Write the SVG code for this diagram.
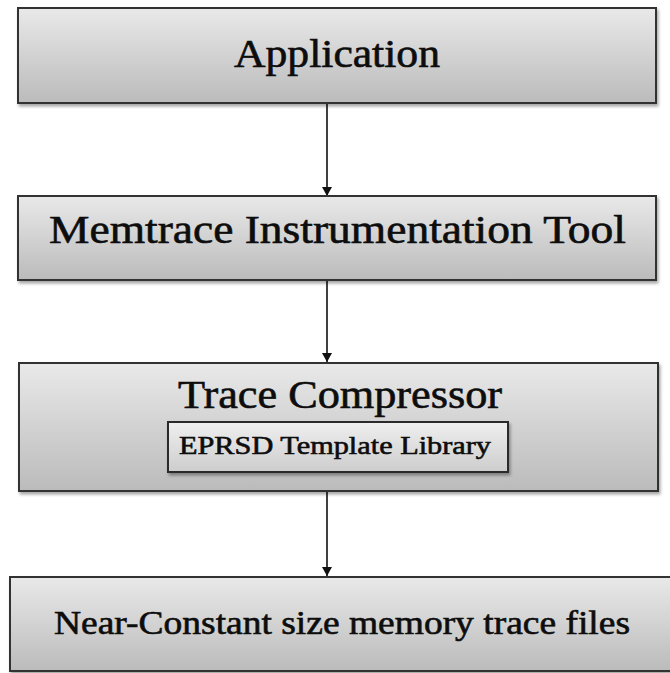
<svg xmlns="http://www.w3.org/2000/svg" width="670" height="673" viewBox="0 0 670 673">
  <defs>
    <linearGradient id="boxFill" x1="0" y1="0" x2="0" y2="1">
      <stop offset="0" stop-color="#e9e9e9"/>
      <stop offset="1" stop-color="#bbbbbb"/>
    </linearGradient>
    <linearGradient id="innerFill" x1="0" y1="0" x2="0" y2="1">
      <stop offset="0" stop-color="#efefef"/>
      <stop offset="1" stop-color="#cdcdcd"/>
    </linearGradient>
    <filter id="shadow" x="-5%" y="-10%" width="110%" height="125%">
      <feDropShadow dx="1.5" dy="2.5" stdDeviation="1.5" flood-color="#000" flood-opacity="0.35"/>
    </filter>
    <marker id="arrow" markerWidth="9" markerHeight="10" refX="9" refY="5" orient="auto" markerUnits="userSpaceOnUse" viewBox="0 0 9 10">
      <path d="M0,0 L9,5 L0,10 Z" fill="#111"/>
    </marker>
  </defs>
  <style>
    .box { fill: url(#boxFill); stroke: #333; stroke-width: 2; filter: url(#shadow); }
    .inner { fill: url(#innerFill); stroke: #2a2a2a; stroke-width: 2; filter: url(#shadow); }
    .label { fill: #0d0d0d; text-anchor: middle; stroke: #0d0d0d; stroke-width: 0.6; }
    .edge { stroke: #111; stroke-width: 1.6; fill: none; marker-end: url(#arrow); }
  </style>

  <rect width="670" height="673" fill="#fff"/>

  <!-- arrows between the stages -->
  <g id="connectors">
    <line class="edge" x1="327" y1="103" x2="327" y2="196"/>
    <line class="edge" x1="327" y1="280" x2="327" y2="362"/>
    <line class="edge" x1="327" y1="491" x2="327" y2="576"/>
  </g>

  <g id="application">
    <rect class="box" x="18" y="8" width="638" height="95"/>
    <text class="label" font-family="Liberation Serif, Times New Roman, serif" x="337" y="67" font-size="39" textLength="206" lengthAdjust="spacingAndGlyphs">Application</text>
  </g>

  <g id="memtrace">
    <rect class="box" x="18" y="196" width="638" height="84"/>
    <text class="label" font-family="Liberation Serif, Times New Roman, serif" x="337.5" y="243" font-size="39" textLength="577" lengthAdjust="spacingAndGlyphs">Memtrace Instrumentation Tool</text>
  </g>

  <g id="trace-compressor">
    <rect class="box" x="19" y="363" width="639" height="128"/>
    <text class="label" font-family="Liberation Serif, Times New Roman, serif" x="340" y="408" font-size="39" textLength="324" lengthAdjust="spacingAndGlyphs">Trace Compressor</text>
    <g id="eprsd-library">
      <rect class="inner" x="168" y="422" width="340" height="50"/>
      <text class="label" font-family="Liberation Serif, Times New Roman, serif" x="335" y="454" font-size="26" textLength="312" lengthAdjust="spacingAndGlyphs">EPRSD Template Library</text>
    </g>
  </g>

  <g id="trace-files">
    <rect class="box" x="10" y="577" width="668" height="94"/>
    <text class="label" font-family="Liberation Serif, Times New Roman, serif" x="342" y="634" font-size="33" textLength="576" lengthAdjust="spacingAndGlyphs">Near-Constant size memory trace files</text>
  </g>
</svg>
